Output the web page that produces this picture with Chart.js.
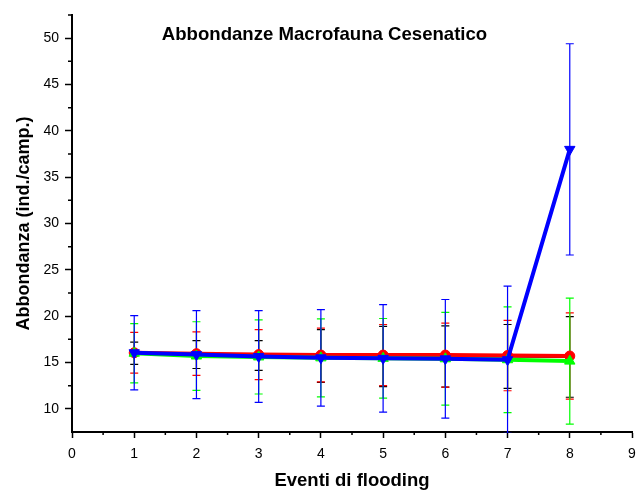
<!DOCTYPE html>
<html>
<head>
<meta charset="utf-8">
<script src="https://cdn.jsdelivr.net/npm/chart.js@4/dist/chart.umd.min.js"></script>
<style>
    html, body { margin: 0; padding: 0; background: #fff; }
    #wrap { width: 636px; height: 492px; }
</style>
</head>
<body>
<div id="wrap"><canvas id="abbChart" width="636" height="492"></canvas></div>
<script>
// events
const eventi = [1, 2, 3, 4, 5, 6, 7, 8];

// series means and error half-widths (ind./camp.)
const neroMedia  = [16.0, 15.85, 15.75, 15.7, 15.65, 15.65, 15.65, 15.6];
const neroErr    = [1.2, 1.5, 1.6, 2.85, 3.25, 3.3, 3.45, 4.35];
const rossoMedia = [16.05, 15.95, 15.85, 15.8, 15.8, 15.8, 15.75, 15.7];
const rossoErr   = [2.2, 2.35, 2.7, 2.9, 3.3, 3.45, 3.8, 4.65];
const verdeMedia = [16.0, 15.7, 15.6, 15.5, 15.45, 15.4, 15.3, 15.15];
const verdeErr   = [3.2, 3.7, 4.0, 4.2, 4.3, 5.0, 5.7, 6.8];
const bluMedia   = [16.05, 15.85, 15.65, 15.5, 15.45, 15.4, 15.3, 38.0];
const bluErr     = [4.0, 4.75, 4.95, 5.2, 5.8, 6.4, 7.95, 11.4];

// axis ticks
const xTicks = [0, 1, 2, 3, 4, 5, 6, 7, 8, 9];
const xMinor = [0.5, 1.5, 2.5, 3.5, 4.5, 5.5, 6.5, 7.5, 8.5];
const yTicks = [10, 15, 20, 25, 30, 35, 40, 45, 50];
const yMinor = [12.5, 17.5, 22.5, 27.5, 32.5, 37.5, 42.5, 47.5, 52.5];

const FONT = "'Liberation Sans', Arial, sans-serif";

function makeSeries(label, mean, err, color, style, radius, rotation, width) {
    return {
        label: label,
        data: eventi.map((e, i) => ({ x: e, y: mean[i] })),
        err: err,
        borderColor: color,
        backgroundColor: color,
        borderWidth: width,
        pointStyle: style,
        pointRadius: radius,
        pointRotation: rotation,
        pointBorderWidth: 1,
        tension: 0
    };
}

/**
 * Error bars, drawn under the markers
 */
const errorBars = {
    id: 'errorBars',
    beforeDatasetsDraw(chart) {
        const { ctx, chartArea, scales: { x, y } } = chart;
        ctx.save();
        ctx.beginPath();
        ctx.rect(chartArea.left, chartArea.top, chartArea.width, chartArea.height + 1);
        ctx.clip();
        ctx.lineWidth = 1.2;
        // last dataset at the bottom, first one on top
        for (let d = chart.data.datasets.length - 1; d >= 0; d--) {
            const ds = chart.data.datasets[d];
            ctx.strokeStyle = ds.borderColor;
            ds.data.forEach((p, i) => {
                const px = x.getPixelForValue(p.x);
                const top = y.getPixelForValue(p.y + ds.err[i]);
                const bot = y.getPixelForValue(p.y - ds.err[i]);
                ctx.beginPath();
                ctx.moveTo(px, top);
                ctx.lineTo(px, bot);
                ctx.moveTo(px - 4, top);
                ctx.lineTo(px + 4, top);
                ctx.moveTo(px - 4, bot);
                ctx.lineTo(px + 4, bot);
                ctx.stroke();
            });
        }
        ctx.restore();
    }
};

/**
 * Minor ticks and the title inside the frame
 */
const extras = {
    id: 'extras',
    afterDraw(chart) {
        const { ctx, chartArea, scales: { x, y } } = chart;
        ctx.save();
        ctx.strokeStyle = '#000';
        ctx.lineWidth = 1.5;
        ctx.beginPath();
        xMinor.forEach(v => {
            const px = x.getPixelForValue(v);
            ctx.moveTo(px, chartArea.bottom);
            ctx.lineTo(px, chartArea.bottom + 3);
        });
        yMinor.forEach(v => {
            const py = y.getPixelForValue(v);
            ctx.moveTo(chartArea.left, py);
            ctx.lineTo(chartArea.left - 4, py);
        });
        ctx.stroke();

        ctx.fillStyle = '#000';
        ctx.font = 'bold 18.6px ' + FONT;
        ctx.textAlign = 'center';
        ctx.textBaseline = 'alphabetic';
        ctx.fillText('Abbondanze Macrofauna Cesenatico', 324.5, 40);
        ctx.restore();
    }
};

new Chart(document.getElementById('abbChart'), {
    type: 'line',
    data: {
        datasets: [
            makeSeries('Serie 4', bluMedia, bluErr, '#0000ff', 'triangle', 6, 180, 4),
            makeSeries('Serie 3', verdeMedia, verdeErr, '#00ff00', 'triangle', 6, 0, 4),
            makeSeries('Serie 2', rossoMedia, rossoErr, '#ff0000', 'circle', 5, 0, 4),
            makeSeries('Serie 1', neroMedia, neroErr, '#000000', 'rect', 4, 0, 2)
        ]
    },
    options: {
        responsive: false,
        animation: false,
        layout: {
            autoPadding: false,
            padding: { top: 15, right: 0, left: 0, bottom: 0 }
        },
        plugins: {
            legend: { display: false },
            tooltip: { enabled: false },
            title: { display: false }
        },
        scales: {
            x: {
                type: 'linear',
                min: 0,
                max: 9,
                afterBuildTicks: axis => { axis.ticks = xTicks.map(v => ({ value: v })); },
                afterFit: axis => {
                    axis.height = 60;
                    axis.paddingLeft = 4;
                    axis.paddingRight = 4;
                },
                ticks: {
                    color: '#000',
                    padding: 8,
                    font: { family: FONT, size: 14 },
                    maxRotation: 0,
                    autoSkip: false
                },
                grid: {
                    drawOnChartArea: false,
                    color: '#000',
                    tickLength: 6,
                    tickWidth: 1.5
                },
                border: { display: true, color: '#000', width: 2 },
                title: {
                    display: true,
                    text: 'Eventi di flooding',
                    color: '#000',
                    font: { family: FONT, size: 18.5, weight: 'bold' },
                    padding: { top: 0, bottom: 0 }
                }
            },
            y: {
                type: 'linear',
                min: 7.5,
                max: 52.5,
                afterBuildTicks: axis => { axis.ticks = yTicks.map(v => ({ value: v })); },
                afterFit: axis => { axis.width = 72; },
                ticks: {
                    color: '#000',
                    padding: 6,
                    font: { family: FONT, size: 14 },
                    autoSkip: false
                },
                grid: {
                    drawOnChartArea: false,
                    color: '#000',
                    tickLength: 7,
                    tickWidth: 1.5
                },
                border: { display: true, color: '#000', width: 2 },
                title: {
                    display: true,
                    text: 'Abbondanza (ind./camp.)',
                    color: '#000',
                    font: { family: FONT, size: 18, weight: 'bold' },
                    padding: { top: 13, bottom: 0 }
                }
            }
        }
    },
    plugins: [errorBars, extras]
});
</script>
</body>
</html>
